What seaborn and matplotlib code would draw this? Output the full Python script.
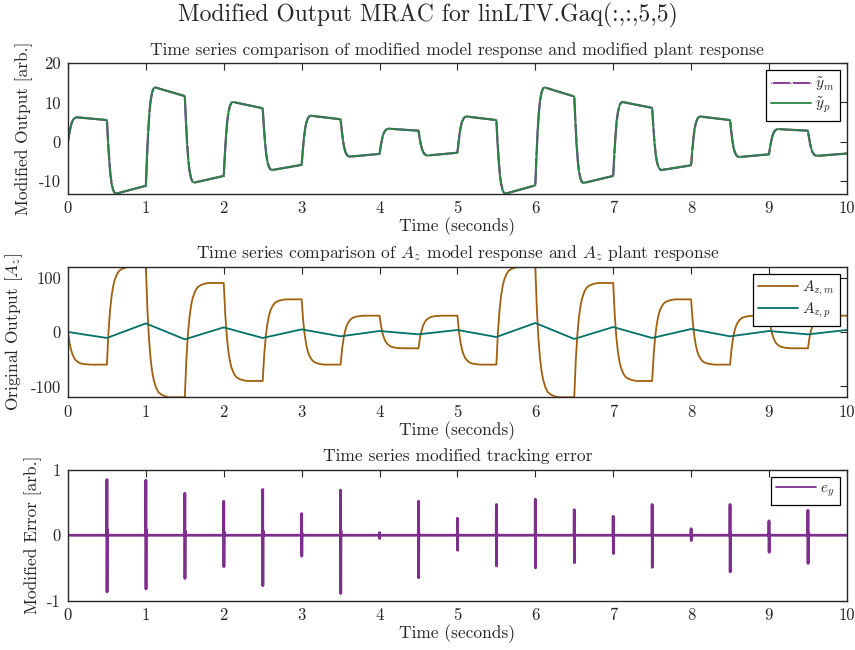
"""
Modified output MRAC figure: model vs plant response and tracking error.
"""
import matplotlib
matplotlib.use("Agg")
import matplotlib.pyplot as plt
import pandas as pd
import seaborn as sns

sns.set_style("white")
plt.rcParams["font.family"] = ["cmr10", "DejaVu Serif"]
plt.rcParams["mathtext.fontset"] = "cm"
plt.rcParams["axes.formatter.use_mathtext"] = False
plt.rcParams["axes.unicode_minus"] = False

# step boundaries (s)
seg_start = [0.0, 0.5, 1.0, 1.5, 2.0, 2.5, 3.0, 3.5, 4.0, 4.5,
             5.0, 5.5, 6.0, 6.5, 7.0, 7.5, 8.0, 8.5, 9.0, 9.5]
t_end = 10.0

# modified output: peak right after each step, value at end of each segment
ym_peak = [6.2, -13.2, 13.8, -10.4, 10.1, -7.2, 6.6, -3.8, 3.3, -3.5,
           6.4, -13.2, 13.8, -10.5, 10.1, -7.2, 6.4, -3.9, 3.2, -3.6]
ym_end = [5.5, -11.2, 11.6, -8.7, 8.5, -5.9, 5.7, -3.1, 2.8, -2.8,
          5.5, -11.1, 11.5, -8.7, 8.6, -6.0, 5.5, -3.2, 2.8, -3.0]
# shape of the fast transition
ym_rise_dt = [0.0, 0.015, 0.03, 0.045, 0.06, 0.08, 0.1, 0.12]
ym_rise_frac = [0.0, 0.3, 0.55, 0.74, 0.86, 0.95, 0.99, 1.0]

# original output A_z: model reference levels and plant vertices
azm_level = [-60, 120, -120, 90, -90, 60, -60, 30, -30, 30,
             -60, 120, -120, 90, -90, 60, -60, 30, -30, 30]
az_rise_dt = [0.0, 0.02, 0.04, 0.06, 0.08, 0.1, 0.13, 0.16, 0.2, 0.25, 0.3]
az_rise_frac = [0.0, 0.33, 0.55, 0.70, 0.80, 0.865, 0.925, 0.96, 0.98, 0.993, 1.0]
azp_time = [0.0, 0.5, 1.0, 1.5, 2.0, 2.5, 3.0, 3.5, 4.0, 4.5, 5.0,
            5.5, 6.0, 6.5, 7.0, 7.5, 8.0, 8.5, 9.0, 9.5, 10.0]
azp_value = [0.0, -11, 15.8, -13.5, 8.5, -11, 4.8, -8, 1.8, -4.3, 3.7,
             -9.2, 16.5, -12.8, 9.1, -11, 5.5, -8, 1.8, -4.4, 3.7]

# tracking error spikes at each step
ey_spike_t = [0.5, 1.0, 1.5, 2.0, 2.5, 3.0, 3.5, 4.0, 4.5, 5.0,
              5.5, 6.0, 6.5, 7.0, 7.5, 8.0, 8.5, 9.0, 9.5]
ey_up = [0.85, 0.84, 0.64, 0.52, 0.70, 0.33, 0.69, 0.04, 0.52, 0.26,
         0.47, 0.55, 0.39, 0.29, 0.47, 0.10, 0.47, 0.22, 0.38]
ey_down = [-0.865, -0.82, -0.66, -0.48, -0.77, -0.32, -0.89, -0.05, -0.65, -0.23,
           -0.47, -0.50, -0.42, -0.28, -0.49, -0.08, -0.56, -0.26, -0.43]

C_PURPLE = "#7E2F8E"
C_GREEN = "#2A8444"
C_ORANGE = "#A0600F"
C_TEAL = "#00706A"
C_AXIS = "#262626"


def build_ym():
    t, y = [], []
    prev = 0.0
    for i, t0 in enumerate(seg_start):
        for dt, f in zip(ym_rise_dt, ym_rise_frac):
            t.append(t0 + dt)
            y.append(prev + (ym_peak[i] - prev) * f)
        t1 = seg_start[i + 1] if i + 1 < len(seg_start) else t_end
        t.append(t1 - 1e-4)
        y.append(ym_end[i])
        prev = ym_end[i]
    return pd.DataFrame({"t": t, "y": y})


def build_azm():
    t, y = [], []
    prev = 0.0
    for i, t0 in enumerate(seg_start):
        for dt, f in zip(az_rise_dt, az_rise_frac):
            t.append(t0 + dt)
            y.append(prev + (azm_level[i] - prev) * f)
        t1 = seg_start[i + 1] if i + 1 < len(seg_start) else t_end
        t.append(t1 - 1e-4)
        y.append(azm_level[i])
        prev = azm_level[i]
    return pd.DataFrame({"t": t, "y": y})


def build_ey():
    t, y = [0.0], [0.0]
    for ts, up, dn in zip(ey_spike_t, ey_up, ey_down):
        t += [ts - 0.002, ts, ts + 0.002, ts + 0.004, ts + 0.006]
        y += [0.0, up, dn, up * 0.1, 0.0]
    t.append(t_end)
    y.append(0.0)
    return pd.DataFrame({"t": t, "y": y})


def style_axis(ax, ylim, yticks):
    ax.set_xlim(0, 10)
    ax.set_ylim(*ylim)
    ax.set_xticks(range(0, 11))
    ax.set_yticks(yticks)
    ax.tick_params(direction="in", top=True, right=True, length=5,
                   width=0.8, color=C_AXIS, labelsize=12, pad=5)
    for s in ax.spines.values():
        s.set_color(C_AXIS)
        s.set_linewidth(1.0)
    ax.set_xlabel("Time (seconds)", fontsize=12.5, labelpad=1)


def add_legend(ax):
    leg = ax.legend(loc="upper right", fancybox=False, edgecolor="black",
                    framealpha=1, fontsize=11, handlelength=2.6,
                    handletextpad=0.3, borderaxespad=0.45, borderpad=0.35,
                    labelspacing=0.2, numpoints=1)
    leg.get_frame().set_linewidth(0.9)
    for h in leg.get_lines():
        h.set_linewidth(1.3)
        h.set_markevery(None)


fig = plt.figure(figsize=(8.55, 6.5), dpi=100)
left, width = 0.0795, 0.911
ax1 = fig.add_axes([left, 0.7015, width, 0.2015])
ax2 = fig.add_axes([left, 0.3888, width, 0.2009])
ax3 = fig.add_axes([left, 0.0758, width, 0.2015])

ym = build_ym()
sns.lineplot(data=ym, x="t", y="y", ax=ax1, color=C_PURPLE, lw=1.6,
             marker=".", markersize=3, markevery=0.03,
             estimator=None, sort=False, label=r"$\tilde{y}_m$")
sns.lineplot(data=ym, x="t", y="y", ax=ax1, color=C_GREEN, lw=1.3,
             estimator=None, sort=False, label=r"$\tilde{y}_p$")
style_axis(ax1, (-13.3, 20), [-10, 0, 10, 20])
ax1.set_ylabel("Modified Output [arb.]", fontsize=12.5, labelpad=4)
ax1.set_title("Time series comparison of modified model response and modified plant response",
              fontsize=12.6, pad=6)
add_legend(ax1)

azm = build_azm()
azp = pd.DataFrame({"t": azp_time, "y": azp_value})
sns.lineplot(data=azm, x="t", y="y", ax=ax2, color=C_ORANGE, lw=1.3,
             estimator=None, sort=False, label=r"$A_{z,m}$")
sns.lineplot(data=azp, x="t", y="y", ax=ax2, color=C_TEAL, lw=1.3,
             estimator=None, sort=False, label=r"$A_{z,p}$")
style_axis(ax2, (-120, 120), [-100, 0, 100])
ax2.set_ylabel(r"Original Output $[A_z]$", fontsize=12.5, labelpad=4)
ax2.set_title(r"Time series comparison of $A_z$ model response and $A_z$ plant response",
              fontsize=12.6, pad=6)
add_legend(ax2)

ey = build_ey()
sns.lineplot(data=ey, x="t", y="y", ax=ax3, color=C_PURPLE, lw=2.0,
             estimator=None, sort=False, label=r"$e_y$")
style_axis(ax3, (-1, 1), [-1, 0, 1])
ax3.set_ylabel("Modified Error [arb.]", fontsize=12.5, labelpad=4)
ax3.set_title("Time series modified tracking error", fontsize=12.6, pad=6)
add_legend(ax3)

fig.suptitle("Modified Output MRAC for linLTV.Gaq(:,:,5,5)", fontsize=17, y=0.995)

fig.savefig("out.png", dpi=100)
plt.close(fig)
